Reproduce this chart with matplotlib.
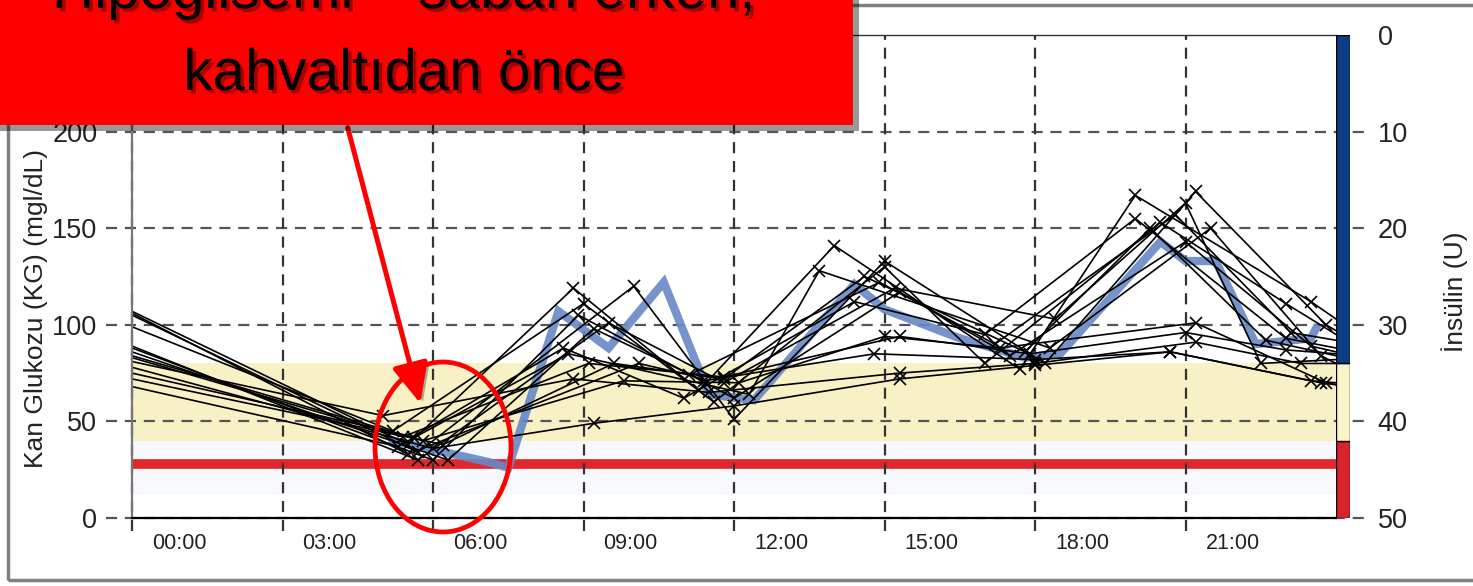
import matplotlib
matplotlib.use("Agg")
import matplotlib.pyplot as plt
import matplotlib.patheffects as pe
from matplotlib.patches import Rectangle, Ellipse, FancyArrowPatch
from matplotlib.transforms import ScaledTranslation

plt.rcParams['font.family'] = ['Liberation Sans', 'DejaVu Sans']

# ---------------- data ----------------
hour_ticks = [0, 3, 6, 9, 12, 15, 18, 21]
hour_labels = ["00:00", "03:00", "06:00", "09:00", "12:00", "15:00", "18:00", "21:00"]
glucose_ticks = [0, 50, 100, 150, 200]
insulin_ticks = [0, 10, 20, 30, 40, 50]

target_low, target_high = 40, 80
hypo_level = 28
low_zone = [12, 40]
bar_bottoms = [0, 40, 80]
bar_heights = [40, 40, 170]

# daily glucose curves (hours, mg/dL)
day_hours = [
    [0, 5.5, 8.8, 11.3, 14.0, 17.7, 20.0, 23.5, 24],
    [0, 5.7, 10.0, 12.0, 15.0, 18.2, 21.2, 23.8, 24],
    [0, 5.2, 9.0, 11.6, 15.0, 17.0, 20.5, 23.0, 24],
    [0, 5.7, 9.5, 11.8, 15.2, 18.4, 21.0, 22.5, 24],
    [0, 6.0, 8.9, 12.0, 15.3, 17.5, 21.0, 23.5, 24],
    [0, 6.3, 9.2, 11.4, 14.8, 18.0, 20.7, 23.5, 24],
    [0, 5.8, 9.8, 12.1, 15.0, 17.3, 21.2, 23.8, 24],
    [0, 5.4, 9.1, 11.8, 15.3, 17.9, 21.0, 23.0, 24],
    [0, 5.0, 8.8, 11.5, 15.3, 18.0, 21.2, 23.3, 24],
    [0, 6.0, 9.2, 12.0, 15.3, 18.0, 20.7, 23.7, 24],
    [0, 5.6, 8.6, 11.0, 14.4, 17.0, 20.0, 23.0, 24],
    [0, 6.2, 9.6, 11.8, 14.6, 17.8, 20.3, 22.6, 24],
    [0, 5.3, 8.7, 12.3, 13.7, 18.3, 21.5, 23.7, 24],
    [0, 5.5, 10.1, 11.1, 14.9, 17.2, 20.8, 23.1, 24],
]
day_values = [
    [107, 38, 119, 66, 141, 77, 167, 112, 103],
    [105, 34, 120, 51, 133, 80, 169, 100, 97],
    [99, 45, 111, 60, 130, 80, 153, 111, 95],
    [89, 30, 101, 70, 119, 103, 163, 80, 82],
    [88, 30, 105, 62, 117, 84, 143, 89, 86],
    [86, 30, 98, 71, 85, 82, 86, 71, 70],
    [84, 40, 71, 70, 94, 88, 101, 70, 69],
    [83, 42, 80, 73, 94, 85, 96, 87, 85],
    [81, 53, 72, 65, 75, 80, 91, 80, 80],
    [78, 36, 49, 58, 72, 79, 86, 70, 69],
    [75, 42, 88, 62, 112, 95, 155, 93, 88],
    [72, 38, 80, 72, 125, 86, 150, 92, 84],
    [68, 37, 85, 64, 128, 88, 150, 84, 80],
    [106, 33, 80, 74, 122, 90, 157, 96, 92],
]

mean_hours = [5.2, 7.1, 7.5, 8.5, 9.5, 10.6, 11.5, 12.4, 14.4, 15.0, 16.5, 17.8,
              18.5, 20.5, 21.0, 21.6, 22.4, 23.5, 23.6]
mean_values = [40, 29, 26, 107, 88, 122, 64, 61, 121, 108, 93, 83,
               85, 143, 133, 133, 90, 93, 98]

# ---------------- figure ----------------
W, H = 1473, 586
fig = plt.figure(figsize=(W / 100, H / 100), dpi=100)
fig.patch.set_facecolor("white")

ax_l, ax_b, ax_w, ax_h = 132 / W, 68 / H, 1204 / W, 483 / H
ax = fig.add_axes([ax_l, ax_b, ax_w, ax_h])
ax.set_xlim(0, 24)
ax.set_ylim(0, 250)

# bands
ax.axhspan(low_zone[0], low_zone[1], color="#f7f9fd", zorder=0, lw=0)
ax.axhspan(target_low, target_high, color="#f8f1c6", zorder=0, lw=0)
ax.axhline(hypo_level, color="#e0282c", lw=7, zorder=1, solid_capstyle="butt")

# grid lines (extend outside plot like the reference)
dash = (0, (5, 3.5))
for y in glucose_ticks:
    ax.plot([-0.022, 1.024], [y, y], transform=ax.get_yaxis_transform(),
            clip_on=False, ls=dash, color="#555555", lw=1.6, zorder=2)
for h in hour_ticks:
    ax.plot([h, h], [-0.026, 1], transform=ax.get_xaxis_transform(),
            clip_on=False, ls=dash, color="#333333", lw=1.6, zorder=2)

# mean curve
ax.plot(mean_hours, mean_values, color="#6788c6", lw=6, alpha=0.9,
        zorder=3, solid_joinstyle="miter")

# individual curves
for hs, vs in zip(day_hours, day_values):
    ax.plot(hs, vs, color="black", lw=1.2, marker="x", markersize=9,
            markeredgewidth=1.2, markevery=list(range(1, len(hs) - 1)), zorder=4)

# spines
ax.spines["right"].set_visible(False)
ax.spines["left"].set_color("#777777")
ax.spines["left"].set_linewidth(1.6)
ax.spines["bottom"].set_color("black")
ax.spines["bottom"].set_linewidth(1.6)
ax.spines["top"].set_color("#333333")
ax.spines["top"].set_linewidth(1.0)
for s in ax.spines.values():
    s.set_zorder(5)

# ticks
ax.set_xticks(hour_ticks)
ax.set_xticklabels(hour_labels, fontsize=15.5, color="#222222")
ax.tick_params(axis="x", length=0, pad=11)
offset = ScaledTranslation(0.20, 0, fig.dpi_scale_trans)
for lab in ax.get_xticklabels():
    lab.set_horizontalalignment("left")
    lab.set_transform(lab.get_transform() + offset)

ax.set_yticks(glucose_ticks)
ax.set_yticklabels([str(v) for v in glucose_ticks], fontsize=19.5, color="#222222")
ax.tick_params(axis="y", length=0, pad=25)

ax2 = ax.twinx()
ax2.set_ylim(50, 0)
ax2.set_yticks(insulin_ticks)
ax2.set_yticklabels([str(v) for v in insulin_ticks], fontsize=19.5, color="#222222")
ax2.tick_params(axis="y", length=0, pad=30)
for s in ax2.spines.values():
    s.set_visible(False)

# colour bar on the right
bax = fig.add_axes([1336 / W, ax_b, 14 / W, ax_h])
bax.bar([0, 0, 0], bar_heights, bottom=bar_bottoms, width=1.0,
        color=["#d9232a", "#f9f3c7", "#0c3d82"], edgecolor="black", lw=1)
bax.set_xlim(-0.5, 0.5)
bax.set_ylim(0, 250)
bax.axis("off")

# axis titles
fig.text(36 / W, (H - 308) / H, "Kan Glukozu (KG) (mgl/dL)", rotation=90,
         ha="center", va="center", fontsize=19, color="#222222")
fig.text(1455 / W, (H - 292) / H, "İnsülin (U)", rotation=90,
         ha="center", va="center", fontsize=19, color="#222222")

# outer frame
fig.patches.append(Rectangle((8 / W, 6 / H), 1.2, (581 - 6) / H, transform=fig.transFigure,
                             fill=False, edgecolor="#808080", lw=2.5, zorder=1))

# callout box
box = Rectangle((-0.01, 461 / H), 868 / W, 0.3, transform=fig.transFigure,
                facecolor="#ff0000", edgecolor="none", zorder=10,
                path_effects=[pe.SimplePatchShadow(offset=(4, -4), shadow_rgbFace="#000000", alpha=0.4),
                              pe.Normal()])
fig.patches.append(box)
txt_fx = [pe.SimplePatchShadow(offset=(2.5, -2.5), shadow_rgbFace="#000000", alpha=0.35), pe.Normal()]
fig.text(404 / W, (H - 8) / H, "Hipoglisemi – sabah erken,", ha="center", va="baseline",
         fontsize=42, color="black", zorder=11, path_effects=txt_fx)
fig.text(404 / W, (H - 90) / H, "kahvaltıdan önce", ha="center", va="baseline",
         fontsize=42, color="black", zorder=11, path_effects=txt_fx)

# arrow
arrow = FancyArrowPatch(posA=(347 / W, 461 / H), posB=(421 / W, (H - 406) / H),
                        transform=fig.transFigure, arrowstyle="-|>,head_length=1.1,head_width=0.5",
                        mutation_scale=22, lw=3.6, color="#ff0000", zorder=9,
                        path_effects=[pe.SimplePatchShadow(offset=(3, -3), shadow_rgbFace="#000000", alpha=0.3),
                                      pe.Normal()])
fig.patches.append(arrow)

# ellipse
ell = Ellipse((443 / W, (H - 447) / H), 136 / W, 170 / H, transform=fig.transFigure,
              fill=False, edgecolor="#ff0000", lw=3.4, zorder=9)
fig.patches.append(ell)

fig.savefig("out.png", dpi=100)
